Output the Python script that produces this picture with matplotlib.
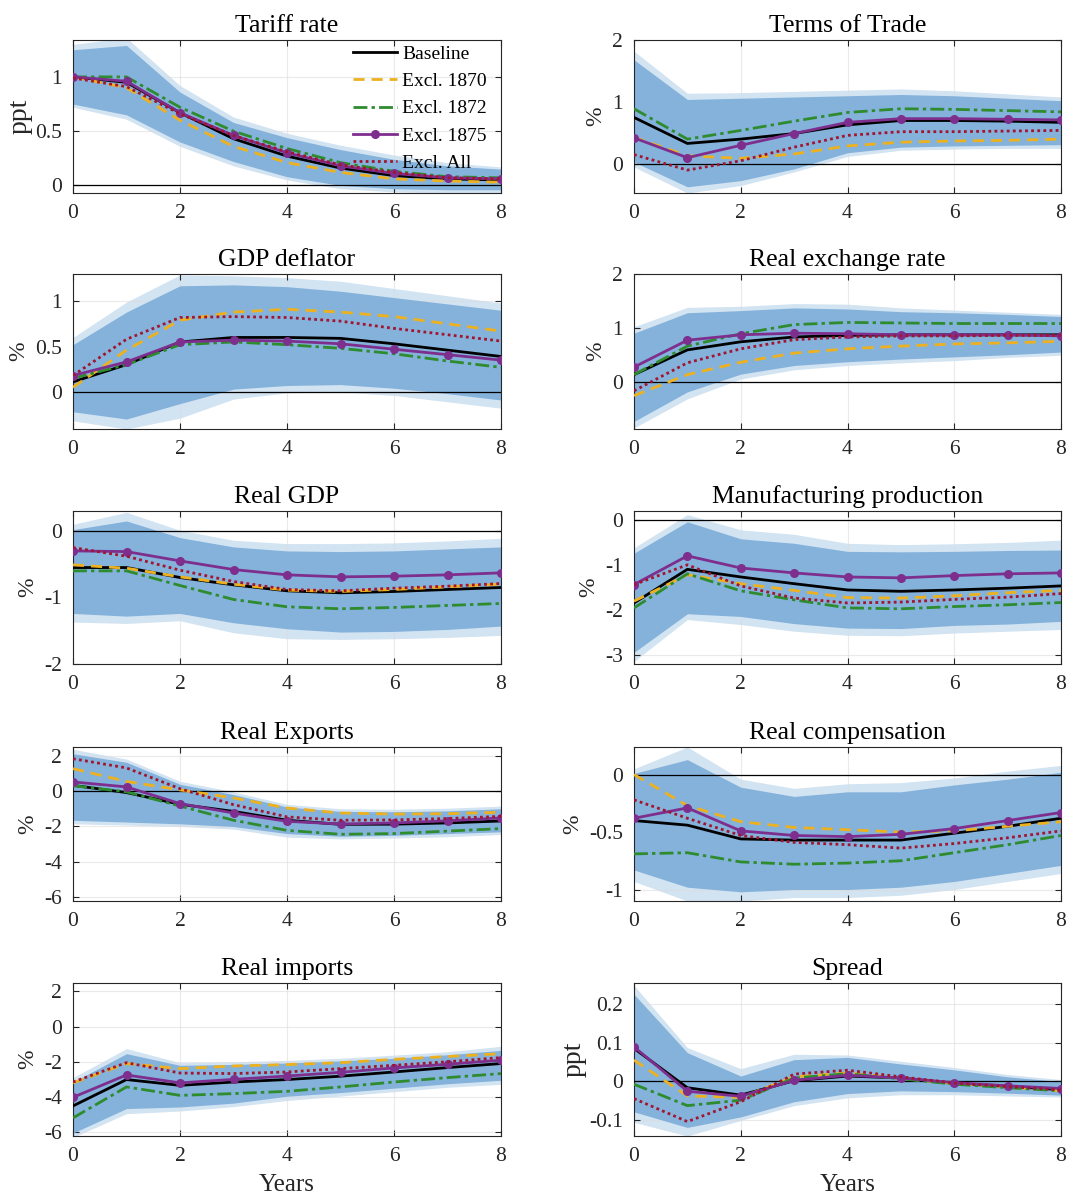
import numpy as np
import matplotlib
matplotlib.use("Agg")
import matplotlib.pyplot as plt

plt.rcParams['font.family'] = ['Liberation Serif', 'DejaVu Serif']
plt.rcParams['mathtext.fontset'] = 'dejavuserif'

years = [0, 1, 2, 3, 4, 5, 6, 7, 8]
series_names = ["Baseline", "Excl. 1870", "Excl. 1872", "Excl. 1875", "Excl. All"]

titles = ["Tariff rate", "Terms of Trade", "GDP deflator", "Real exchange rate",
          "Real GDP", "Manufacturing production", "Real Exports", "Real compensation",
          "Real imports", "Spread"]
ylabels = ["ppt", "%", "%", "%", "%", "%", "%", "%", "%", "ppt"]

# ---------------- data ----------------
tariff_baseline = [1.0, 0.95, 0.67, 0.43, 0.27, 0.16, 0.09, 0.06, 0.05]
tariff_ex1870 = [1.0, 0.90, 0.60, 0.36, 0.21, 0.12, 0.06, 0.04, 0.03]
tariff_ex1872 = [1.0, 1.0, 0.72, 0.50, 0.34, 0.21, 0.13, 0.08, 0.07]
tariff_ex1875 = [1.0, 0.96, 0.67, 0.46, 0.30, 0.18, 0.11, 0.07, 0.06]
tariff_exall = [0.99, 0.91, 0.66, 0.46, 0.31, 0.19, 0.12, 0.07, 0.06]
tariff_in_hi = [1.25, 1.29, 0.86, 0.58, 0.44, 0.33, 0.24, 0.18, 0.15]
tariff_out_hi = [1.30, 1.36, 0.92, 0.63, 0.48, 0.37, 0.28, 0.21, 0.17]
tariff_in_lo = [0.75, 0.65, 0.40, 0.22, 0.08, 0.0, -0.03, -0.04, -0.04]
tariff_out_lo = [0.72, 0.61, 0.36, 0.18, 0.05, -0.03, -0.06, -0.07, -0.07]

tot_baseline = [0.75, 0.33, 0.40, 0.49, 0.63, 0.70, 0.70, 0.69, 0.67]
tot_ex1870 = [0.43, 0.13, 0.09, 0.16, 0.29, 0.35, 0.37, 0.38, 0.40]
tot_ex1872 = [0.89, 0.40, 0.54, 0.69, 0.83, 0.89, 0.88, 0.86, 0.84]
tot_ex1875 = [0.42, 0.10, 0.30, 0.49, 0.67, 0.73, 0.73, 0.72, 0.71]
tot_exall = [0.15, -0.10, 0.05, 0.27, 0.46, 0.52, 0.52, 0.53, 0.54]
tot_in_hi = [1.68, 1.04, 1.06, 1.08, 1.10, 1.12, 1.10, 1.06, 1.02]
tot_out_hi = [1.82, 1.14, 1.15, 1.17, 1.19, 1.21, 1.18, 1.13, 1.08]
tot_in_lo = [0.03, -0.37, -0.27, -0.08, 0.18, 0.27, 0.29, 0.30, 0.31]
tot_out_lo = [-0.05, -0.47, -0.35, -0.13, 0.12, 0.22, 0.24, 0.25, 0.25]

defl_baseline = [0.11, 0.30, 0.55, 0.60, 0.60, 0.59, 0.53, 0.46, 0.39]
defl_ex1870 = [0.05, 0.46, 0.79, 0.88, 0.91, 0.88, 0.83, 0.75, 0.67]
defl_ex1872 = [0.15, 0.30, 0.52, 0.55, 0.52, 0.48, 0.42, 0.34, 0.27]
defl_ex1875 = [0.18, 0.33, 0.55, 0.57, 0.56, 0.53, 0.47, 0.41, 0.35]
defl_exall = [0.18, 0.58, 0.82, 0.83, 0.82, 0.78, 0.70, 0.63, 0.56]
defl_in_hi = [0.52, 0.88, 1.17, 1.18, 1.16, 1.11, 1.04, 0.97, 0.90]
defl_out_hi = [0.60, 0.99, 1.29, 1.28, 1.26, 1.22, 1.14, 1.06, 0.98]
defl_in_lo = [-0.22, -0.30, -0.13, 0.03, 0.07, 0.08, 0.04, -0.02, -0.09]
defl_out_lo = [-0.32, -0.41, -0.29, -0.08, -0.01, 0.0, -0.04, -0.11, -0.18]

rer_baseline = [0.13, 0.59, 0.74, 0.83, 0.86, 0.87, 0.87, 0.87, 0.87]
rer_ex1870 = [-0.26, 0.13, 0.36, 0.53, 0.61, 0.66, 0.70, 0.72, 0.75]
rer_ex1872 = [0.13, 0.66, 0.89, 1.06, 1.10, 1.09, 1.08, 1.08, 1.08]
rer_ex1875 = [0.27, 0.77, 0.87, 0.90, 0.89, 0.87, 0.87, 0.87, 0.85]
rer_exall = [-0.17, 0.35, 0.61, 0.78, 0.83, 0.85, 0.85, 0.86, 0.86]
rer_in_hi = [0.90, 1.28, 1.32, 1.37, 1.35, 1.30, 1.28, 1.25, 1.21]
rer_out_hi = [1.02, 1.38, 1.40, 1.45, 1.44, 1.37, 1.33, 1.29, 1.25]
rer_in_lo = [-0.74, -0.19, 0.14, 0.30, 0.37, 0.42, 0.46, 0.50, 0.55]
rer_out_lo = [-0.86, -0.32, 0.05, 0.22, 0.30, 0.35, 0.39, 0.45, 0.49]

gdp_baseline = [-0.55, -0.55, -0.70, -0.81, -0.90, -0.93, -0.91, -0.88, -0.85]
gdp_ex1870 = [-0.51, -0.56, -0.69, -0.80, -0.89, -0.91, -0.88, -0.84, -0.80]
gdp_ex1872 = [-0.60, -0.60, -0.82, -1.03, -1.14, -1.17, -1.15, -1.12, -1.09]
gdp_ex1875 = [-0.30, -0.31, -0.45, -0.58, -0.66, -0.69, -0.68, -0.66, -0.63]
gdp_exall = [-0.25, -0.38, -0.59, -0.76, -0.88, -0.90, -0.86, -0.83, -0.79]
gdp_in_hi = [0.02, 0.15, -0.10, -0.24, -0.30, -0.31, -0.30, -0.27, -0.24]
gdp_out_hi = [0.10, 0.28, 0.01, -0.14, -0.19, -0.19, -0.18, -0.15, -0.11]
gdp_in_lo = [-1.24, -1.28, -1.24, -1.38, -1.47, -1.52, -1.51, -1.48, -1.43]
gdp_out_lo = [-1.37, -1.39, -1.35, -1.53, -1.62, -1.63, -1.62, -1.60, -1.57]

man_baseline = [-1.85, -1.10, -1.27, -1.42, -1.56, -1.59, -1.56, -1.52, -1.47]
man_ex1870 = [-1.81, -1.22, -1.42, -1.57, -1.73, -1.74, -1.69, -1.62, -1.57]
man_ex1872 = [-1.96, -1.20, -1.58, -1.78, -1.96, -1.98, -1.93, -1.89, -1.84]
man_ex1875 = [-1.44, -0.80, -1.07, -1.18, -1.27, -1.29, -1.24, -1.20, -1.18]
man_exall = [-1.44, -1.00, -1.47, -1.74, -1.85, -1.83, -1.77, -1.72, -1.64]
man_in_hi = [-0.74, -0.04, -0.42, -0.52, -0.70, -0.71, -0.70, -0.68, -0.67]
man_out_hi = [-0.62, 0.12, -0.22, -0.32, -0.52, -0.55, -0.53, -0.50, -0.45]
man_in_lo = [-2.95, -2.09, -2.15, -2.31, -2.41, -2.42, -2.35, -2.32, -2.26]
man_out_lo = [-3.15, -2.22, -2.33, -2.48, -2.57, -2.58, -2.52, -2.48, -2.44]

exp_baseline = [0.32, -0.09, -0.75, -1.15, -1.65, -1.88, -1.87, -1.80, -1.69]
exp_ex1870 = [1.26, 0.54, 0.06, -0.39, -0.96, -1.24, -1.30, -1.28, -1.20]
exp_ex1872 = [0.30, -0.05, -0.85, -1.65, -2.22, -2.44, -2.40, -2.26, -2.12]
exp_ex1875 = [0.51, 0.23, -0.71, -1.24, -1.71, -1.86, -1.80, -1.68, -1.52]
exp_exall = [1.82, 1.30, 0.13, -0.77, -1.46, -1.65, -1.63, -1.55, -1.43]
exp_in_hi = [2.10, 1.62, 0.38, -0.20, -0.90, -1.15, -1.17, -1.12, -1.00]
exp_out_hi = [2.35, 1.80, 0.55, -0.05, -0.75, -1.00, -1.03, -0.97, -0.85]
exp_in_lo = [-1.65, -1.75, -1.85, -2.00, -2.40, -2.55, -2.50, -2.40, -2.30]
exp_out_lo = [-1.85, -1.92, -2.00, -2.15, -2.60, -2.70, -2.65, -2.58, -2.45]

comp_baseline = [-0.40, -0.44, -0.56, -0.57, -0.57, -0.57, -0.51, -0.45, -0.38]
comp_ex1870 = [0.0, -0.27, -0.41, -0.46, -0.48, -0.50, -0.49, -0.45, -0.41]
comp_ex1872 = [-0.69, -0.68, -0.76, -0.78, -0.77, -0.75, -0.68, -0.61, -0.53]
comp_ex1875 = [-0.38, -0.29, -0.49, -0.53, -0.54, -0.52, -0.47, -0.40, -0.33]
comp_exall = [-0.22, -0.38, -0.53, -0.59, -0.61, -0.64, -0.60, -0.55, -0.49]
comp_in_hi = [0.01, 0.13, -0.11, -0.19, -0.15, -0.15, -0.09, -0.04, 0.02]
comp_out_hi = [0.05, 0.24, -0.04, -0.12, -0.08, -0.07, -0.03, 0.03, 0.08]
comp_in_lo = [-0.83, -0.98, -1.02, -1.00, -1.00, -0.98, -0.93, -0.86, -0.79]
comp_out_lo = [-0.93, -1.10, -1.10, -1.07, -1.07, -1.05, -1.00, -0.93, -0.86]

imp_baseline = [-4.51, -3.01, -3.34, -3.15, -3.01, -2.82, -2.58, -2.33, -2.10]
imp_ex1870 = [-3.20, -2.10, -2.39, -2.24, -2.16, -2.05, -1.86, -1.70, -1.54]
imp_ex1872 = [-5.19, -3.43, -3.91, -3.81, -3.68, -3.43, -3.15, -2.90, -2.67]
imp_ex1875 = [-4.02, -2.75, -3.20, -3.00, -2.81, -2.60, -2.35, -2.14, -1.91]
imp_exall = [-3.15, -2.05, -2.64, -2.67, -2.58, -2.39, -2.20, -2.00, -1.76]
imp_in_hi = [-3.15, -1.54, -2.20, -2.15, -2.07, -1.95, -1.80, -1.60, -1.35]
imp_out_hi = [-2.90, -1.25, -2.05, -2.00, -1.92, -1.80, -1.62, -1.43, -1.12]
imp_in_lo = [-6.05, -4.66, -4.57, -4.35, -3.96, -3.75, -3.50, -3.25, -3.05]
imp_out_lo = [-6.30, -4.95, -4.80, -4.55, -4.20, -3.95, -3.70, -3.45, -3.28]

spr_baseline = [0.085, -0.016, -0.035, 0.002, 0.014, 0.009, -0.005, -0.012, -0.021]
spr_ex1870 = [0.055, -0.037, -0.041, 0.012, 0.022, 0.008, -0.005, -0.014, -0.024]
spr_ex1872 = [-0.007, -0.062, -0.048, 0.009, 0.020, 0.007, -0.007, -0.016, -0.024]
spr_ex1875 = [0.089, -0.025, -0.038, 0.003, 0.016, 0.009, -0.003, -0.011, -0.018]
spr_exall = [-0.044, -0.103, -0.052, 0.019, 0.029, 0.012, -0.004, -0.013, -0.022]
spr_in_hi = [0.224, 0.074, 0.014, 0.056, 0.062, 0.045, 0.030, 0.012, 0.0]
spr_out_hi = [0.247, 0.087, 0.033, 0.070, 0.068, 0.052, 0.036, 0.018, 0.005]
spr_in_lo = [-0.078, -0.118, -0.091, -0.052, -0.031, -0.024, -0.026, -0.030, -0.035]
spr_out_lo = [-0.105, -0.140, -0.100, -0.062, -0.042, -0.034, -0.034, -0.037, -0.040]

yticks_list = [[0, 0.5, 1], [0, 1, 2], [0, 0.5, 1], [0, 1, 2], [-2, -1, 0],
               [-3, -2, -1, 0], [-6, -4, -2, 0, 2], [-1, -0.5, 0], [-6, -4, -2, 0, 2],
               [-0.1, 0, 0.1, 0.2]]
ylims = [(-0.07, 1.34), (-0.47, 2.0), (-0.41, 1.30), (-0.88, 2.0), (-2.0, 0.3),
         (-3.21, 0.2), (-6.2, 2.48), (-1.1, 0.24), (-6.22, 2.48), (-0.14, 0.253)]
zero_line = [True, True, True, True, True, True, True, True, False, True]

panels = [
    (tariff_baseline, tariff_ex1870, tariff_ex1872, tariff_ex1875, tariff_exall,
     tariff_in_lo, tariff_in_hi, tariff_out_lo, tariff_out_hi),
    (tot_baseline, tot_ex1870, tot_ex1872, tot_ex1875, tot_exall,
     tot_in_lo, tot_in_hi, tot_out_lo, tot_out_hi),
    (defl_baseline, defl_ex1870, defl_ex1872, defl_ex1875, defl_exall,
     defl_in_lo, defl_in_hi, defl_out_lo, defl_out_hi),
    (rer_baseline, rer_ex1870, rer_ex1872, rer_ex1875, rer_exall,
     rer_in_lo, rer_in_hi, rer_out_lo, rer_out_hi),
    (gdp_baseline, gdp_ex1870, gdp_ex1872, gdp_ex1875, gdp_exall,
     gdp_in_lo, gdp_in_hi, gdp_out_lo, gdp_out_hi),
    (man_baseline, man_ex1870, man_ex1872, man_ex1875, man_exall,
     man_in_lo, man_in_hi, man_out_lo, man_out_hi),
    (exp_baseline, exp_ex1870, exp_ex1872, exp_ex1875, exp_exall,
     exp_in_lo, exp_in_hi, exp_out_lo, exp_out_hi),
    (comp_baseline, comp_ex1870, comp_ex1872, comp_ex1875, comp_exall,
     comp_in_lo, comp_in_hi, comp_out_lo, comp_out_hi),
    (imp_baseline, imp_ex1870, imp_ex1872, imp_ex1875, imp_exall,
     imp_in_lo, imp_in_hi, imp_out_lo, imp_out_hi),
    (spr_baseline, spr_ex1870, spr_ex1872, spr_ex1875, spr_exall,
     spr_in_lo, spr_in_hi, spr_out_lo, spr_out_hi),
]

# ---------------- styling ----------------
c_dark = '#84b2db'
c_light = '#d2e3f2'
c_base = 'black'
c_1870 = '#EDB120'
c_1872 = '#2E8B2E'
c_1875 = '#7E2F8E'
c_all = '#A2142F'

fig = plt.figure(figsize=(10.72, 12.0), dpi=100)

col_x = [73 / 1072, 634 / 1072]
col_w = [428 / 1072, 427 / 1072]
row_tb = [(40, 193), (274, 429), (511, 664), (747, 901), (983, 1136)]

for i, data in enumerate(panels):
    r, c = divmod(i, 2)
    top, bot = row_tb[r]
    ax = fig.add_axes([col_x[c], 1 - bot / 1200, col_w[c], (bot - top) / 1200])
    base, e70, e72, e75, eall, ilo, ihi, olo, ohi = data
    ax.fill_between(years, olo, ohi, color=c_light, lw=0, zorder=1)
    ax.fill_between(years, ilo, ihi, color=c_dark, lw=0, zorder=2)
    if zero_line[i]:
        ax.axhline(0, color='black', lw=0.9, zorder=3)
    l1, = ax.plot(years, base, color=c_base, lw=2.0, zorder=5, label=series_names[0])
    l2, = ax.plot(years, e70, color=c_1870, lw=2.0, ls=(0, (4, 2.5)), zorder=5, label=series_names[1])
    l3, = ax.plot(years, e72, color=c_1872, lw=2.0, ls=(0, (5, 1.5, 1.2, 1.5)), zorder=5, label=series_names[2])
    l4, = ax.plot(years, e75, color=c_1875, lw=2.0, marker='o', ms=5.5, zorder=6, label=series_names[3])
    l5, = ax.plot(years, eall, color=c_all, lw=2.0, ls=(0, (1, 1.2)), zorder=6, label=series_names[4])
    ax.set_xlim(0, 8)
    ax.set_ylim(*ylims[i])
    ax.set_xticks([0, 2, 4, 6, 8])
    ax.set_yticks(yticks_list[i])
    ax.set_yticklabels([('%g' % v) for v in yticks_list[i]])
    ax.grid(True, color='#dcdcdc', lw=0.8, zorder=0)
    for gl in ax.get_xgridlines() + ax.get_ygridlines():
        gl.set_zorder(2.5)
        gl.set_alpha(0.6)
    ax.tick_params(direction='in', top=True, right=True, labelsize=15.5,
                   colors='#262626', length=4, width=0.8, pad=8)
    for sp in ax.spines.values():
        sp.set_color('#262626')
        sp.set_linewidth(0.8)
    ax.set_title(titles[i], fontsize=18.5, color='black', pad=6)
    if ylabels[i] == 'ppt':
        ax.set_ylabel(ylabels[i], fontsize=20, color='#262626', labelpad=2)
    else:
        ax.set_ylabel(ylabels[i], fontsize=17, color='#262626', labelpad=4)
    if r == 4:
        ax.set_xlabel('Years', fontsize=18, color='#262626', labelpad=6)
    if i == 0:
        leg = ax.legend(handles=[l1, l2, l3, l4, l5], loc='upper right', frameon=False,
                        fontsize=14, handlelength=2.3, handletextpad=0.25,
                        labelspacing=0.5, borderaxespad=0.1,
                        bbox_to_anchor=(0.99, 1.03))

fig.savefig('out.png', dpi=100)
